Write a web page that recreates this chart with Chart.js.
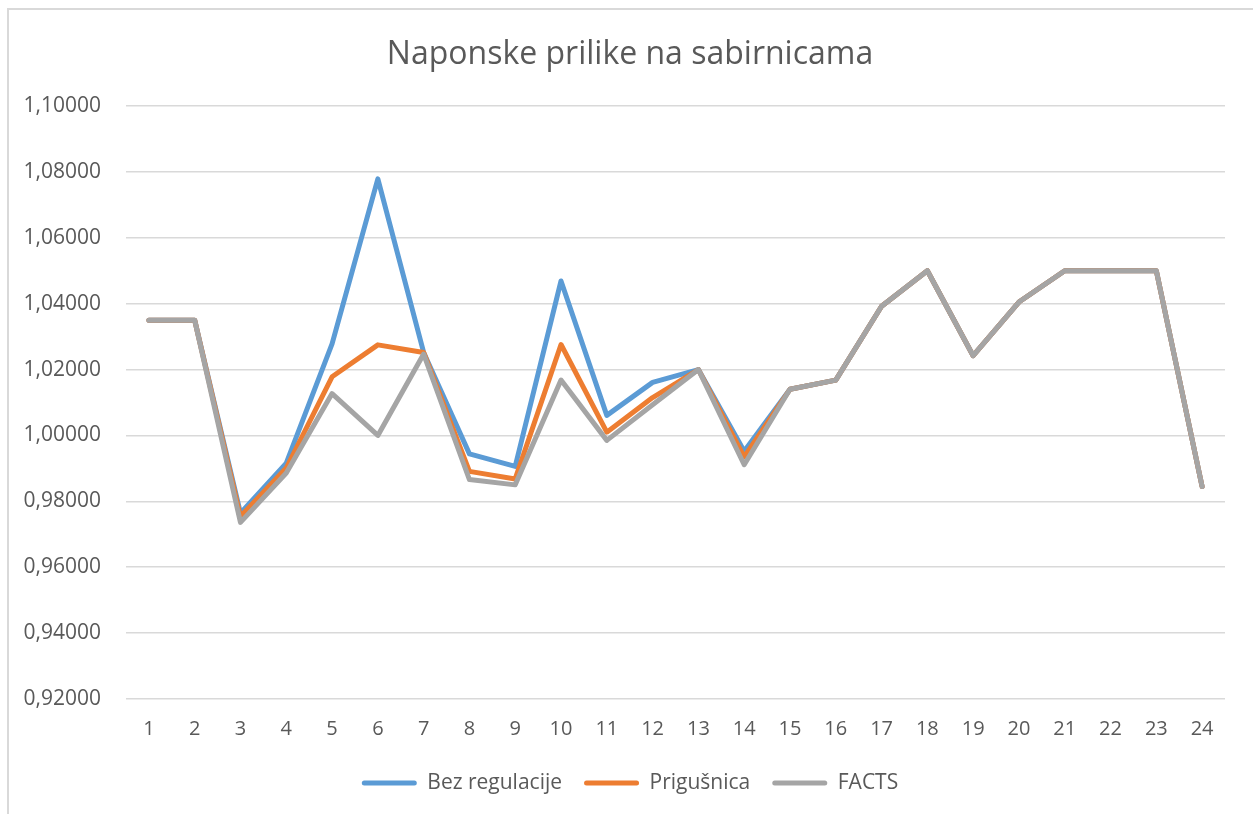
<!DOCTYPE html>
<html>
<head>
<meta charset="utf-8">
<title>Naponske prilike na sabirnicama</title>
<script src="https://cdn.jsdelivr.net/npm/chart.js@4"></script>
<style>
  body { margin: 0; background: #fff; }
  #frame { position: absolute; left: 7px; top: 8px; right: 0; bottom: 0;
           border-left: 2px solid #d9d9d9; border-top: 2px solid #d9d9d9; }
  #chart { position: absolute; left: 0; top: 0; }
</style>
</head>
<body>
<div id="frame"></div>
<canvas id="chart" width="1253" height="814"></canvas>
<script>
// Bus numbers on the category axis
const buses = ['1','2','3','4','5','6','7','8','9','10','11','12',
               '13','14','15','16','17','18','19','20','21','22','23','24'];

// Voltage (p.u.)
const bezRegulacije = [1.0350, 1.0350, 0.9764, 0.9916, 1.0278, 1.0779, 1.0252, 0.9944,
                       0.9906, 1.0469, 1.0061, 1.0161, 1.0200, 0.9952, 1.0140, 1.0168,
                       1.0392, 1.0500, 1.0242, 1.0405, 1.0500, 1.0500, 1.0500, 0.9845];
const prigusnica    = [1.0350, 1.0350, 0.9754, 0.9901, 1.0178, 1.0275, 1.0252, 0.9891,
                       0.9868, 1.0276, 1.0010, 1.0115, 1.0200, 0.9935, 1.0140, 1.0168,
                       1.0392, 1.0500, 1.0242, 1.0405, 1.0500, 1.0500, 1.0500, 0.9845];
const facts         = [1.0350, 1.0350, 0.9736, 0.9886, 1.0127, 1.0000, 1.0247, 0.9866,
                       0.9850, 1.0168, 0.9985, 1.0093, 1.0200, 0.9911, 1.0140, 1.0168,
                       1.0392, 1.0500, 1.0242, 1.0405, 1.0500, 1.0500, 1.0500, 0.9845];

// Y axis range and tick step
const yMin = 0.92;
const yMax = 1.10;
const yStep = 0.02;

const textColor = '#595959';
const fontFamily = '"Open Sans", "Noto Sans", sans-serif';

function lineDataset(label, data, color, order) {
  return {
    label: label,
    data: data,
    borderColor: color,
    backgroundColor: color,
    borderWidth: 5,
    borderCapStyle: 'round',
    borderJoinStyle: 'round',
    pointRadius: 0,
    tension: 0,
    order: order
  };
}

// Excel centres title and legend a bit right of the canvas middle
const shiftBlocks = {
  id: 'shiftBlocks',
  afterLayout: function(chart) {
    if (chart.titleBlock) chart.titleBlock.left += 35;
    if (chart.legend) chart.legend.left += 35;
  }
};

const ctx = document.getElementById('chart').getContext('2d');
new Chart(ctx, {
  type: 'line',
  data: {
    labels: buses,
    datasets: [
      lineDataset('Bez regulacije', bezRegulacije, '#5b9bd5', 3),
      lineDataset('Prigušnica', prigusnica, '#ed7d31', 2),
      lineDataset('FACTS', facts, '#a5a5a5', 1)
    ]
  },
  plugins: [shiftBlocks],
  options: {
    responsive: false,
    animation: false,
    layout: {
      padding: { top: 0, left: 0, right: 28, bottom: 10.5 }
    },
    scales: {
      x: {
        offset: true,
        grid: { display: false },
        border: { display: false },
        ticks: {
          color: textColor,
          font: { family: fontFamily, size: 20 },
          padding: 10,
          maxRotation: 0
        },
        afterFit: function(scale) { scale.height = 51.5; }
      },
      y: {
        min: yMin,
        max: yMax,
        border: { display: false },
        grid: { color: '#d9d9d9', lineWidth: 1.5, drawTicks: false },
        ticks: {
          stepSize: yStep,
          padding: 25,
          color: textColor,
          font: { family: fontFamily, size: 21 },
          callback: function(value) {
            return value.toFixed(5).replace('.', ',');
          }
        },
        afterFit: function(scale) { scale.width = 126; }
      }
    },
    plugins: {
      title: {
        display: true,
        text: 'Naponske prilike na sabirnicama',
        color: textColor,
        font: { family: fontFamily, size: 32, weight: 'normal', lineHeight: 1.2 },
        padding: { top: 36, bottom: 31.6 }
      },
      legend: {
        position: 'bottom',
        labels: {
          color: textColor,
          font: { family: fontFamily, size: 21 },
          boxWidth: 55,
          boxHeight: 5,
          padding: 22,
          useBorderRadius: true,
          borderRadius: 2.5,
          generateLabels: function(chart) {
            const items = Chart.defaults.plugins.legend.labels.generateLabels(chart);
            items.forEach(item => {
              item.lineWidth = 0;
              item.fillStyle = item.strokeStyle;
            });
            return items.sort((a, b) => a.datasetIndex - b.datasetIndex);
          }
        }
      },
      tooltip: { enabled: false }
    }
  }
});
</script>
</body>
</html>
